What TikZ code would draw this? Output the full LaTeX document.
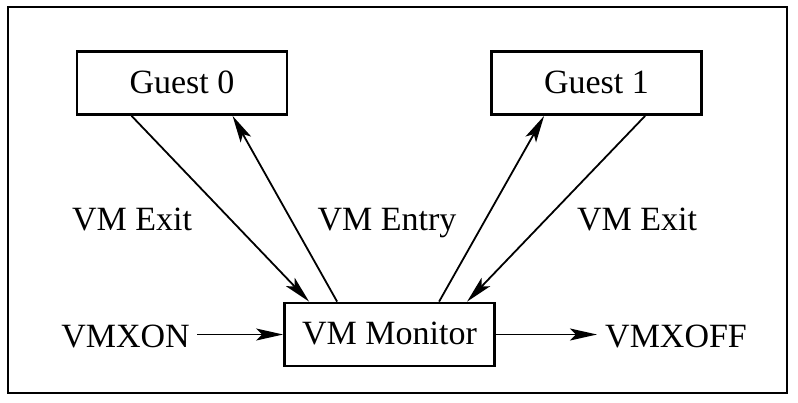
\documentclass[tikz,border=0pt]{standalone}
\usepackage{fontspec}
\setmainfont{Liberation Serif}
\usetikzlibrary{arrows.meta}
\begin{document}
\begin{tikzpicture}[x=1pt,y=-1pt,
  every node/.style={font=\fontsize{34}{40}\selectfont, inner sep=0pt},
  box/.style={draw, line width=2.8pt, minimum width=210pt, minimum height=63pt, text height=24pt, text depth=4pt},
  lbl/.style={anchor=base},
  conn/.style={line width=1.8pt, -{Stealth[length=27pt,width=12pt,inset=6pt]}},
  plain/.style={line width=1.8pt}]
\useasboundingbox (0,0) rectangle (798,402);
\draw[line width=1.8pt] (8,7) rectangle (787,393);
\node[box] (g0) at (182,83) {Guest 0};
\node[box] (g1) at (596.5,83) {Guest 1};
\node[box] (m) at (389.5,334.5) {VM Monitor};
\node[lbl] (lx) at (132,230) {VM Exit};
\node[lbl] (le) at (387,230) {VM Entry};
\node[lbl] (rx) at (637,230) {VM Exit};
\node[anchor=base east, inner xsep=7pt] (on) at (197,347) {VMXON};
\node[anchor=base west, inner xsep=8pt] (off) at (597,347) {VMXOFF};
\draw[conn] ([xshift=56pt]g0.south west) -- ([xshift=26pt]m.north west);
\draw[conn] ([xshift=54pt]m.north west) -- ([xshift=157pt]g0.south west);
\draw[conn] ([xshift=156pt]m.north west) -- ([xshift=54pt]g1.south west);
\draw[conn] ([xshift=155pt]g1.south west) -- ([xshift=184pt]m.north west);
\draw[conn] (on.east |- m.west) -- (m.west);
\draw[conn] (m.east) -- (off.west |- m.east);
\end{tikzpicture}
\end{document}
